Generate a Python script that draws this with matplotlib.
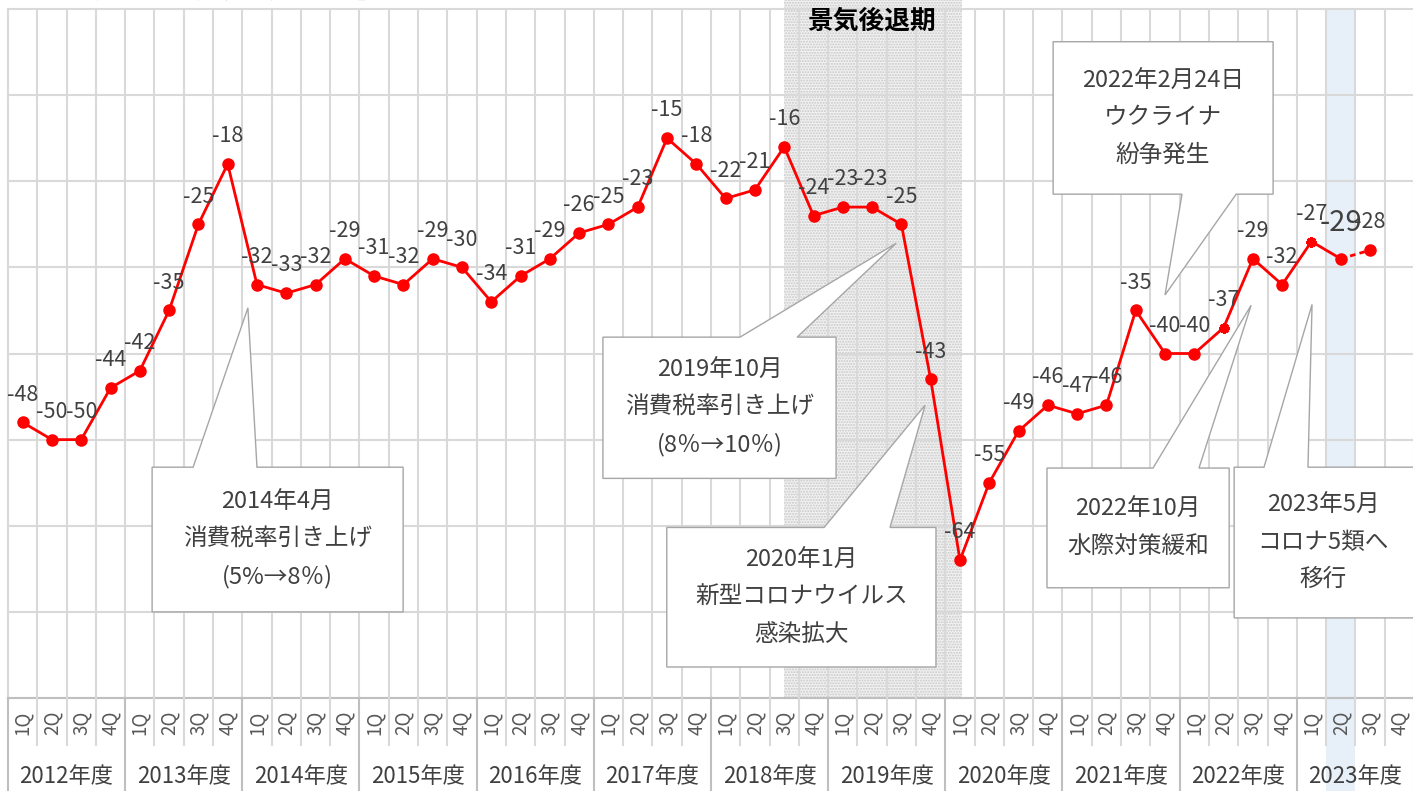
import numpy as np
import matplotlib
matplotlib.use('Agg')
import matplotlib.pyplot as plt
from matplotlib.patches import Polygon, Rectangle

plt.rcParams['font.family'] = ['Noto Sans CJK JP', 'DejaVu Sans']

# data
years = ['2012年度', '2013年度', '2014年度', '2015年度', '2016年度', '2017年度',
         '2018年度', '2019年度', '2020年度', '2021年度', '2022年度', '2023年度']
quarters = ['1Q', '2Q', '3Q', '4Q']
di = [-48, -50, -50, -44,
      -42, -35, -25, -18,
      -32, -33, -32, -29,
      -31, -32, -29, -30,
      -34, -31, -29, -26,
      -25, -23, -15, -18,
      -22, -21, -16, -24,
      -23, -23, -25, -43,
      -64, -55, -49, -46,
      -47, -46, -35, -40,
      -40, -37, -29, -32,
      -27, -29, -28]
star_idx = [41, 44]      # 2022 2Q, 2023 1Q
latest_idx = 45          # 2023 2Q (highlighted)
forecast_idx = 46        # 2023 3Q (dashed)
recession = (26, 32)     # 2018 3Q peak -> 2020 1Q trough

# callouts: text, box (x0, x1, y_top, y_bot), wedge base (xa, xb), tip (x, y), side
callouts = [
    ('2014年4月\n消費税率引き上げ\n(5%→8％)', (4.42, 12.99, -53.2, -70.0), (5.82, 8.0), (7.69, -34.7), 'top'),
    ('2019年10月\n消費税率引き上げ\n(8％→10％)', (19.81, 27.77, -38.1, -54.5), (24.49, 26.44), (29.82, -27.2), 'top'),
    ('2020年1月\n新型コロナウイルス\n感染拡大', (21.99, 31.18, -60.2, -76.4), (27.36, 29.61), (30.81, -46.0), 'top'),
    ('2022年2月24日\nウクライナ\n紛争発生', (35.18, 42.69, -3.8, -21.5), (39.58, 41.43), (39.0, -33.2), 'bottom'),
    ('2022年10月\n水際対策緩和', (34.97, 41.19, -53.3, -67.2), (38.59, 40.16), (41.94, -34.4), 'top'),
    ('2023年5月\nコロナ5類へ\n移行', (41.36, 47.6, -53.2, -70.7), (42.38, 43.88), (44.02, -34.3), 'top'),
]

W, H = 1413, 791
fig = plt.figure(figsize=(W / 100, H / 100), dpi=100)
ax = fig.add_axes([8 / W, (H - 698) / H, 1406 / W, 689 / H])
ax.set_xlim(-0.5, 47.5)
ax.set_ylim(-80, 0)
ax.axis('off')

grid_c = '#d9d9d9'
txt_c = '#404040'
n = len(years) * 4

# recession shading (dotted pattern)
ax.add_patch(Rectangle((recession[0], -80), recession[1] - recession[0] + 0.07, 81.2,
                       facecolor='#f2f2f2', edgecolor='#c8c8c8', hatch='......',
                       linewidth=0, zorder=0.5, clip_on=False))
ax.text((recession[0] + recession[1]) / 2, -1.4, '景気後退期', ha='center', va='center',
        fontsize=18.5, fontweight='bold', color='black', zorder=6)

# highlight latest quarter
ax.add_patch(Rectangle((latest_idx - 0.5, -92), 1, 92, facecolor='#e7eff8',
                       edgecolor='none', zorder=0.6, clip_on=False))

# grid
for k in range(n + 1):
    ax.plot([k - 0.5, k - 0.5], [-80, 0], color=grid_c, lw=1.5, zorder=1, clip_on=False)
for yv in range(-80, 1, 10):
    ax.plot([-0.5, 47.5], [yv, yv], color=grid_c, lw=1.5, zorder=1, clip_on=False)
ax.plot([-0.5, 47.5], [-80, -80], color='#bfbfbf', lw=1.5, zorder=2, clip_on=False)

# category axis labels
for k in range(n + 1):
    if k % 4 == 0:
        ax.plot([k - 0.5, k - 0.5], [-80, -92], color='#bfbfbf', lw=1.5, zorder=2, clip_on=False)
    else:
        ax.plot([k - 0.5, k - 0.5], [-80, -85.5], color=grid_c, lw=1.5, zorder=2, clip_on=False)
for k in range(n):
    ax.text(k, -82.9, quarters[k % 4], rotation=90, ha='center', va='center',
            fontsize=13.5, color='#595959', clip_on=False)
for j, yl in enumerate(years):
    ax.text(j * 4 + 1.5, -89.1, yl, ha='center', va='center', fontsize=16,
            color=txt_c, clip_on=False)

# line
x = np.arange(len(di))
ax.plot(x[:forecast_idx], di[:forecast_idx], color='#ff0000', lw=2, zorder=4)
ax.plot(x[forecast_idx - 1:], di[forecast_idx - 1:], color='#ff0000', lw=2, ls=(0, (2, 1.5)), zorder=4)
circ = [i for i in x if i not in star_idx]
ax.plot(x[circ], np.array(di)[circ], 'o', color='#ff0000', ms=8, zorder=5)
ax.plot(x[star_idx], np.array(di)[star_idx], marker=(8, 2, 0), ls='none', color='#ff0000',
        ms=7.5, mew=2, zorder=5)

for i, v in enumerate(di):
    if i == latest_idx:
        ax.annotate(str(v), (i, v), xytext=(0, 26), textcoords='offset points', ha='center',
                    va='center', fontsize=21, color=txt_c, zorder=6)
    else:
        ax.annotate(str(v), (i, v), xytext=(0, 20), textcoords='offset points', ha='center',
                    va='center', fontsize=15.5, color=txt_c, zorder=6)

# callouts
for text, (x0, x1, yt, yb), (xa, xb), tip, side in callouts:
    if side == 'top':
        verts = [(x0, yt), (xa, yt), tip, (xb, yt), (x1, yt), (x1, yb), (x0, yb)]
    else:
        verts = [(x0, yt), (x1, yt), (x1, yb), (xb, yb), tip, (xa, yb), (x0, yb)]
    ax.add_patch(Polygon(verts, closed=True, facecolor='white', edgecolor='#a6a6a6',
                         lw=1, zorder=7, clip_on=False))
    ax.text((x0 + min(x1, 47.43)) / 2, (yt + yb) / 2, text,
            ha='center', va='center', fontsize=17, color=txt_c, linespacing=1.78, zorder=8)

fig.text(45 / W, 1 - 3 / H, '【業況判断DI（全産業）の推移】', ha='left', va='bottom',
         fontsize=16, fontweight='bold', color='black')

fig.savefig('out.png', dpi=100)
